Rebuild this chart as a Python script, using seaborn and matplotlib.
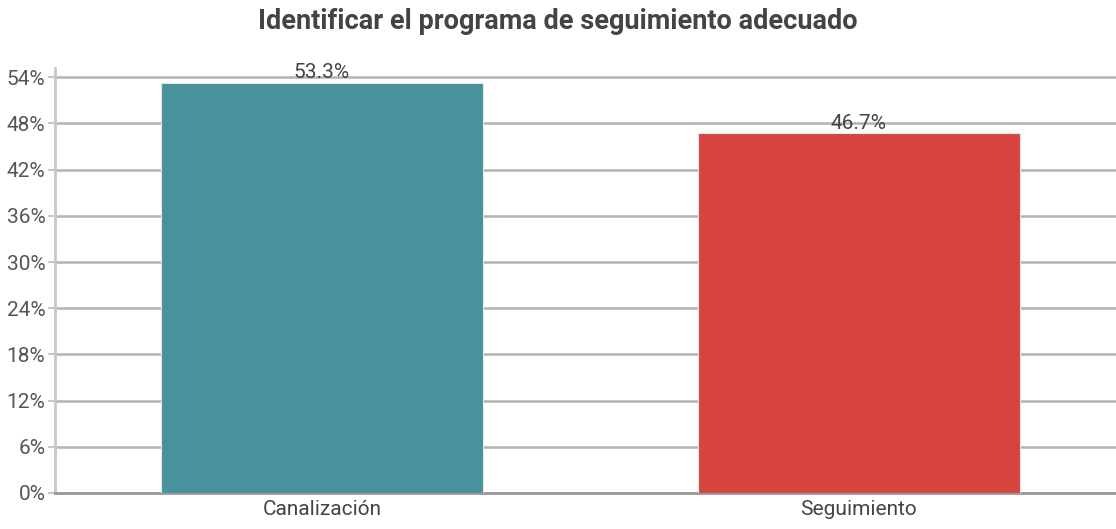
import seaborn as sns
import matplotlib.pyplot as plt
import pandas as pd

categories = ["Canalización", "Seguimiento"]
values = [53.3, 46.7]
bar_colors = ["#47929B", "#D6443D"]
y_ticks = [0, 6, 12, 18, 24, 30, 36, 42, 48, 54]

df = pd.DataFrame({"categoria": categories, "pct": values})

sns.set_style("white")
plt.rcParams["font.family"] = ["Roboto", "DejaVu Sans"]

fig = plt.figure(figsize=(11.16, 5.29), dpi=100)
ax = fig.add_axes([55 / 1116, 36 / 529, 1061 / 1116, (493 - 68) / 529])

sns.barplot(data=df, x="categoria", y="pct", hue="categoria", palette=bar_colors,
            saturation=1, width=0.6, legend=False, ax=ax, zorder=3,
            edgecolor="#e6e6e6", linewidth=0.8)

ax.set_xlim(-0.497, 1.479)
ax.set_ylim(0, 55.2)
ax.set_yticks(y_ticks)
ax.set_yticklabels([f"{t}%" for t in y_ticks])
ax.yaxis.grid(True, color="#b3b3b3", linewidth=1.8, zorder=0)
ax.set_axisbelow(True)

for i, v in enumerate(values):
    ax.text(i, v + 0.1, f"{v:.1f}%", ha="center", va="bottom", fontsize=15, color="#444444", zorder=4)

ax.set_xlabel("")
ax.set_ylabel("")
ax.tick_params(axis="y", labelsize=15, labelcolor="#555555", length=5, width=1.5, color="#c8c8c8", pad=2, left=True)
ax.tick_params(axis="x", labelsize=15, labelcolor="#444444", length=0, pad=5)

for s in ["top", "right"]:
    ax.spines[s].set_visible(False)
ax.spines["left"].set_color("#c8c8c8")
ax.spines["left"].set_linewidth(2)
ax.spines["bottom"].set_color("#999999")
ax.spines["bottom"].set_linewidth(2)

fig.suptitle("Identificar el programa de seguimiento adecuado", y=0.985, fontsize=19.5,
             fontweight="bold", color="#444444")

fig.savefig("out.png", dpi=100)
